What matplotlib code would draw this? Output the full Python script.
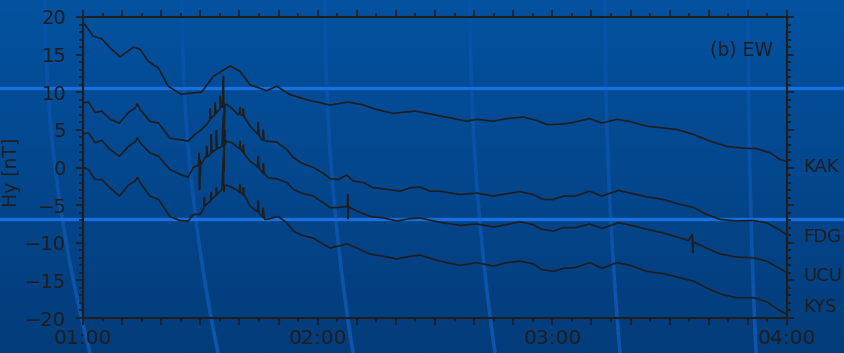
import numpy as np
import matplotlib
matplotlib.use('Agg')
import matplotlib.pyplot as plt
from matplotlib.ticker import MultipleLocator, FuncFormatter
from matplotlib.collections import LineCollection
from matplotlib.colors import LinearSegmentedColormap, to_rgb

# Hy (east-west) component, minutes after 01:00 UT, values in nT (offset per station)
kak_t = [0, 0.5, 2.6, 4.8, 6.9, 9.5, 12.9, 14.6, 16.7, 19.3, 21.8, 25.2, 27.4, 30.3, 33.3, 37.6, 40.1,
         42.7, 47.0, 49.5, 52.9, 57.2, 60.6, 63.2, 67.8, 71.7, 75.1, 79.3, 84.9, 90.4, 94.7, 98.1, 100.7,
         104.9, 108.3, 112.6, 116.0, 118.6, 122.0, 124.5, 129.6, 132.6, 136.5, 139.9, 144.1, 151.8, 156.1,
         160.3, 164.6, 168.0, 172.3, 175.7, 178.2, 180]
kak_v = [19.1, 19.0, 17.45, 17.1, 15.9, 14.7, 16.0, 15.7, 14.1, 13.2, 10.8, 9.7, 9.9, 10.0, 12.1, 13.5, 12.8,
         11.0, 10.2, 10.8, 9.7, 9.0, 8.6, 8.3, 8.7, 8.3, 7.7, 7.2, 7.5, 6.95, 6.5, 6.15, 6.4,
         6.15, 6.5, 6.7, 6.25, 5.7, 5.75, 5.9, 6.5, 5.9, 6.4, 6.1, 5.5, 5.05, 4.4,
         3.5, 2.8, 2.6, 2.5, 1.95, 1.06, 0.8]

fdg_t = [0, 1.4, 3.1, 4.8, 6.9, 9.3, 11.6, 13.3, 13.9, 14.6, 17.1, 19.3, 22.2, 24.8, 26.9, 28.6, 30.3,
         31.6, 32.4, 32.5, 32.7, 33.7, 33.8, 34.0, 35.0, 35.1, 35.3, 35.7, 35.9, 36.1, 36.3, 36.7, 38.0,
         39.7, 40.0, 40.1, 40.3, 40.9, 41.0, 41.2, 41.4, 42.7, 44.4, 44.7, 44.8, 45.0, 45.7, 46.0, 46.1,
         46.3, 47.0, 49.5, 52.1, 53.8, 55.9, 58.9, 61.5, 63.2, 65.3, 67.4, 69.1, 71.7, 74.2, 77.7, 81.1,
         83.6, 86.2, 88.7, 91.3, 96.4, 100.7, 104.9, 108.3, 111.7, 115.1, 117.7, 120.3, 122.8, 125.8,
         129.6, 132.6, 136.9, 139.9, 144.1, 148.4, 152.6, 156.1, 159.5, 162.9, 167.1, 171.4, 174.8,
         177.8, 180]
fdg_v = [8.6, 8.7, 7.3, 7.5, 6.4, 5.9, 7.3, 7.9, 8.5, 7.7, 6.15, 5.9, 3.9, 3.7, 3.5, 4.4, 5.05,
         5.7, 6.3, 7.8, 6.5, 7.0, 8.6, 7.2, 7.8, 9.5, 8.0, 8.1, 12.1, 5.0, 8.3, 8.4, 7.9,
         7.0, 7.1, 8.0, 7.0, 6.9, 7.8, 6.8, 6.6, 5.5, 4.6, 4.4, 6.0, 4.3, 3.7, 3.7, 5.0,
         3.6, 3.5, 3.4, 2.4, 1.3, 0.6, 0.0, -0.8, -1.5, -1.6, -1.0, -1.8, -2.0, -2.7, -2.9, -3.15,
         -2.7, -2.6, -3.15, -3.15, -3.6, -3.4, -3.8, -3.5, -3.2, -3.6, -4.25, -4.25, -3.8, -3.8,
         -3.15, -3.8, -3.05, -3.4, -3.9, -4.25, -4.9, -5.3, -6.25, -6.9, -7.1, -7.05, -7.35,
         -8.2, -9.0]

ucu_t = [0, 1.4, 3.1, 4.8, 6.9, 9.3, 11.6, 13.3, 13.9, 14.6, 17.1, 19.3, 22.2, 24.8, 26.9, 28.2, 29.5,
         29.7, 29.8, 29.9, 30.0, 30.1, 31.2, 31.5, 31.6, 31.8, 32.7, 32.8, 33.0, 34.0, 34.1, 34.3, 35.5,
         35.9, 36.0, 36.2, 36.3, 36.7, 38.0, 39.7, 40.0, 40.1, 40.3, 40.9, 41.0, 41.2, 41.4, 42.7, 44.4,
         44.7, 44.8, 45.0, 45.7, 46.0, 46.1, 46.3, 47.4, 49.5, 52.1, 53.8, 55.9, 58.9, 61.5, 63.2, 65.3,
         67.6, 67.7, 67.8, 67.9, 70.0, 73.4, 76.8, 80.2, 83.6, 86.2, 89.6, 92.1, 96.4, 100.7, 104.9,
         108.3, 111.7, 115.1, 117.3, 120.3, 122.8, 125.8, 129.6, 132.6, 136.9, 139.9, 144.1, 148.4,
         152.6, 154.8, 155.8, 155.9, 156.0, 157.3, 159.5, 162.9, 167.1, 171.4, 174.8, 177.8, 180]
ucu_v = [4.5, 4.6, 3.3, 3.6, 2.4, 1.5, 2.8, 3.4, 3.9, 3.3, 1.95, 1.5, -0.27, -0.9, -1.3, 0.0, 0.3,
         1.9, -2.9, 1.0, -1.0, 0.4, 1.3, 1.5, 2.8, 1.4, 1.9, 4.4, 2.0, 2.4, 4.9, 2.5, 2.8,
         7.0, -0.5, 5.0, 3.0, 3.5, 3.3, 2.6, 2.5, 3.5, 2.4, 2.0, 3.0, 1.9, 1.7, 0.85, 0.2,
         0.0, 1.5, -0.1, -0.5, -0.7, 0.5, -0.8, -1.4, -1.5, -2.0, -2.9, -3.4, -3.8, -4.7, -5.35, -5.3,
         -5.2, -3.6, -6.8, -5.2, -5.8, -6.5, -6.7, -7.1, -6.8, -6.7, -7.1, -7.35, -7.7, -7.5, -7.9,
         -7.6, -7.2, -7.6, -8.2, -8.45, -8.0, -8.0, -7.5, -8.1, -7.35, -7.65, -8.2, -8.7,
         -9.35, -9.7, -8.9, -11.3, -9.9, -10.2, -10.7, -11.5, -11.9, -12.0, -12.45, -13.3, -14.0]

kys_t = [0, 1.4, 3.1, 4.8, 6.9, 9.3, 11.6, 13.3, 13.9, 14.6, 17.1, 19.3, 22.2, 24.8, 26.9, 28.2, 29.9,
         30.9, 31.0, 31.2, 32.7, 32.8, 32.9, 34.0, 34.1, 34.2, 35.5, 35.9, 36.0, 36.2, 36.7, 38.0, 39.7,
         40.0, 40.1, 40.3, 40.9, 41.0, 41.2, 41.4, 42.7, 44.4, 44.7, 44.8, 45.0, 46.0, 46.1, 46.3, 46.5,
         47.8, 49.9, 52.1, 53.8, 55.9, 58.9, 61.5, 63.2, 65.3, 67.4, 70.0, 73.4, 76.8, 80.2, 83.6, 86.2,
         89.6, 93.0, 96.4, 100.7, 104.9, 108.3, 111.7, 115.1, 117.3, 120.3, 122.8, 125.8, 129.6, 132.6,
         136.5, 139.9, 144.1, 148.4, 152.6, 156.1, 159.5, 162.9, 167.1, 171.4, 174.8, 177.8, 180]
kys_v = [0.0, -0.27, -1.6, -1.6, -2.7, -3.8, -2.35, -1.8, -1.3, -2.0, -3.8, -4.25, -6.5, -7.05, -7.1, -6.25, -6.25,
         -5.4, -4.0, -5.1, -4.4, -3.3, -4.25, -3.7, -2.7, -3.6, -2.9, 1.5, -3.2, -2.4, -2.35, -2.6, -3.15,
         -3.3, -2.3, -3.3, -3.6, -2.7, -3.7, -3.8, -5.1, -5.8, -5.9, -4.4, -6.0, -6.6, -5.4, -6.7, -6.9,
         -6.8, -6.5, -7.35, -8.45, -9.0, -9.4, -10.2, -10.7, -10.45, -10.15, -10.7, -11.5, -11.8, -12.15, -11.8, -11.65,
         -12.2, -12.65, -13.0, -12.65, -13.1, -12.65, -12.45, -12.8, -13.55, -13.8, -13.4, -13.3, -12.65, -13.4,
         -12.65, -13.0, -13.8, -14.1, -14.65, -15.1, -16.0, -16.8, -17.3, -17.3, -17.85, -18.9, -19.5]

stations = ['KAK', 'FDG', 'UCU', 'KYS']
station_label_y = [0.1, -9.3, -14.4, -18.5]

W, H = 844, 353
ink = '#1e1e1e'

fig = plt.figure(figsize=(W / 100, H / 100), dpi=100)

# backdrop: blue gradient with bright rules and faint curved streaks
bg = fig.add_axes([0, 0, 1, 1], zorder=0)
bg.set_xlim(0, W)
bg.set_ylim(H, 0)
bg.axis('off')
cmap = LinearSegmentedColormap.from_list('backdrop', ['#0452a0', '#033c7a'])
bg.imshow(np.linspace(0, 1, 256)[:, None], extent=[0, W, H, 0], cmap=cmap, aspect='auto')
for yy in (88, 219):
    bg.axhline(yy, color='#1a6fe0', lw=2.4)
streak_rgb = to_rgb('#1a6ad8')
for x0, dx in [(45, 45), (182, 36), (325, 28), (470, 25), (605, 15), (748, 8)]:
    ys = np.linspace(0, H, 80)
    xs = x0 + dx * (ys / H) ** 2
    pts = np.column_stack([xs, ys])
    segs = np.stack([pts[:-1], pts[1:]], axis=1)
    cols = [(*streak_rgb, 0.12 + 0.45 * (y / H)) for y in ys[:-1]]
    bg.add_collection(LineCollection(segs, colors=cols, linewidths=2.6))

ax = fig.add_axes([83 / W, 1 - 318 / H, (787 - 83) / W, (318 - 17) / H], zorder=1)
ax.set_facecolor('none')

for t, v in [(kak_t, kak_v), (fdg_t, fdg_v), (ucu_t, ucu_v), (kys_t, kys_v)]:
    assert len(t) == len(v)
    ax.plot(t, v, color=ink, lw=1.2)

ax.set_xlim(0, 180)
ax.set_ylim(-20, 20)

ax.xaxis.set_major_locator(MultipleLocator(10))
ax.xaxis.set_minor_locator(MultipleLocator(5))
ax.yaxis.set_major_locator(MultipleLocator(5))
ax.yaxis.set_minor_locator(MultipleLocator(1))
ax.xaxis.set_major_formatter(FuncFormatter(
    lambda m, p: f'{1 + int(round(m)) // 60:02d}:00' if int(round(m)) % 60 == 0 else ''))

ax.tick_params(which='both', direction='out', top=True, right=True, labeltop=False,
               labelright=False, color=ink, width=1.2)
ax.tick_params(which='major', length=5)
ax.tick_params(which='minor', length=3)
ax.tick_params(axis='x', labelsize=14.5, labelcolor=ink, pad=3)
ax.tick_params(axis='y', labelsize=14, labelcolor=ink, pad=7)
for s in ax.spines.values():
    s.set_color(ink)
    s.set_linewidth(1.5)

ax.set_ylabel('Hy [nT]', fontsize=13.5, color=ink)
ax.yaxis.set_label_coords(-0.088, 0.485)

ax.text(0.98, 0.892, '(b) EW', transform=ax.transAxes, ha='right', va='center',
        fontsize=13.5, color=ink)

trans = ax.get_yaxis_transform()
for name, yv in zip(stations, station_label_y):
    ax.text(1.023, yv, name, transform=trans, ha='left', va='center', fontsize=13,
            color=ink, clip_on=False)

fig.savefig('out.png', dpi=100)
